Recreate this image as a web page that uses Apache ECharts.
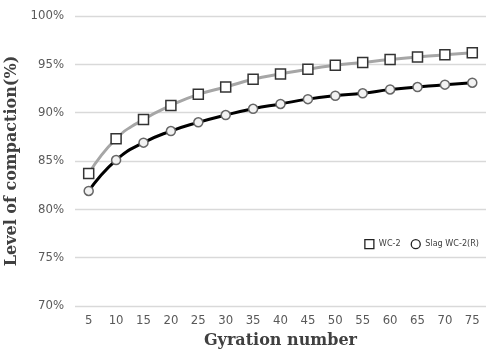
<!DOCTYPE html>
<html><head><meta charset="utf-8">
<script src="https://cdn.jsdelivr.net/npm/echarts@6/dist/echarts.min.js"></script>
<style>html,body{margin:0;padding:0;background:#fff}#c{width:486px;height:354px}</style>
</head><body><div id="c"></div>
<script>
const categories = ['5','10','15','20','25','30','35','40','45','50','55','60','65','70','75'];
const wc2 = [83.7, 87.3, 89.3, 90.75, 91.9, 92.65, 93.45, 94.0, 94.5, 94.9, 95.2, 95.5, 95.75, 96.0, 96.2];
const slag = [81.9, 85.1, 86.9, 88.1, 89.0, 89.75, 90.4, 90.9, 91.4, 91.75, 92.0, 92.4, 92.65, 92.9, 93.1];
const seriesNames = ['WC-2', 'Slag WC-2(R)'];
const yMin = 70, yMax = 100, yStep = 5;

const chart = echarts.init(document.getElementById('c'));
const labelFont = "'Liberation Sans Narrow','DejaVu Sans Condensed',sans-serif";
const titleFont = "'DejaVu Serif','Liberation Serif',serif";
chart.setOption({
  animation: false,
  backgroundColor: '#fff',
  grid: { left: 75, right: 0, top: 16, bottom: 48, outerBoundsMode: 'none', containLabel: false },
  legend: {
    right: 2, top: 234, itemGap: 10, itemWidth: 9, itemHeight: 9,
    textStyle: { fontSize: 9, color: '#404040', fontFamily: labelFont },
    data: [
      { name: seriesNames[0], icon: 'rect', itemStyle: { color: '#fff', borderColor: '#222', borderWidth: 1.3 } },
      { name: seriesNames[1], icon: 'circle', itemStyle: { color: '#fff', borderColor: '#222', borderWidth: 1.3 } }
    ]
  },
  xAxis: {
    type: 'category', data: categories, boundaryGap: true,
    axisLine: { show: false }, axisTick: { show: false },
    axisLabel: { margin: 8, fontSize: 13, color: '#595959', fontFamily: labelFont },
    name: 'Gyration number', nameLocation: 'middle', nameGap: 27,
    nameTextStyle: { fontFamily: titleFont, fontWeight: 'bold', fontSize: 16, color: '#404040' }
  },
  yAxis: {
    type: 'value', min: yMin, max: yMax, interval: yStep,
    axisLine: { show: false }, axisTick: { show: false },
    splitLine: { lineStyle: { color: '#d9d9d9', width: 1.3 } },
    axisLabel: { margin: 11, fontSize: 13, color: '#595959', fontFamily: labelFont, formatter: v => v + '%' },
    name: 'Level of compaction(%)', nameLocation: 'middle', nameGap: 49,
    nameTextStyle: { fontFamily: titleFont, fontWeight: 'bold', fontSize: 16, color: '#404040' }
  },
  series: [
    {
      name: seriesNames[0], type: 'line', data: wc2, smooth: true,
      symbol: 'rect', symbolSize: 10,
      lineStyle: { color: '#a6a6a6', width: 3 },
      itemStyle: { color: '#fff', borderColor: '#333', borderWidth: 1.5 },
      z: 2
    },
    {
      name: seriesNames[1], type: 'line', data: slag, smooth: true,
      symbol: 'circle', symbolSize: 9,
      lineStyle: { color: '#000', width: 3 },
      itemStyle: { color: '#f2f2f2', borderColor: '#666', borderWidth: 1.5 },
      z: 3
    }
  ]
});
</script></body></html>
